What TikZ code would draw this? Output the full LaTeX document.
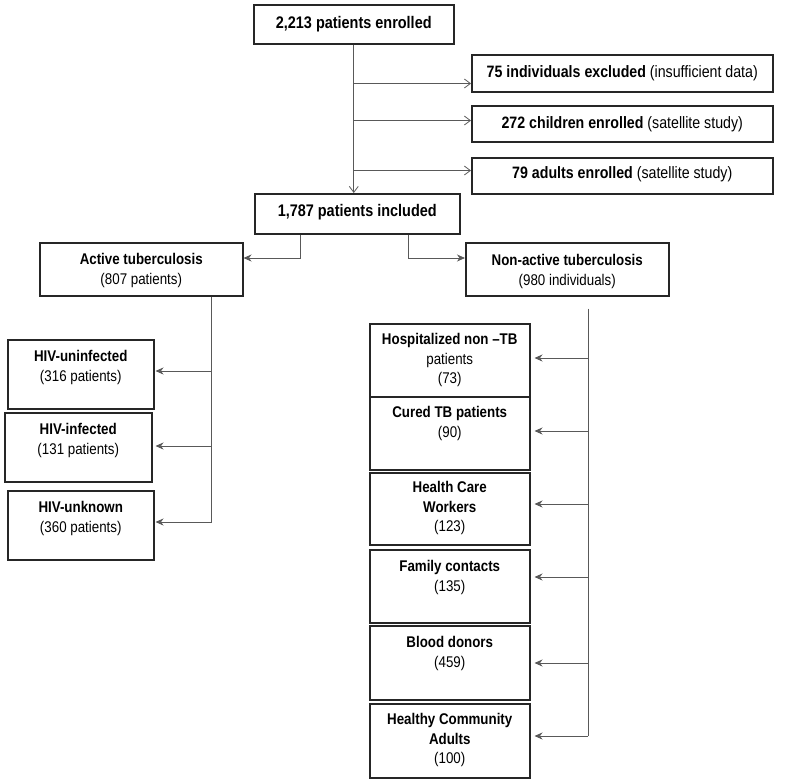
\documentclass[tikz,border=0pt]{standalone}
\usepackage{fontspec}
\setmainfont{Liberation Sans}[FakeStretch=0.86]
\usetikzlibrary{arrows.meta,calc}
\newcommand{\boxtext}[4]{\parbox[c][#2][t]{#1}{\centering\rule{0pt}{#3}#4}}
\begin{document}
\begin{tikzpicture}[x=1pt,y=-1pt,
		box/.style={draw=black!85,line width=1.5pt,inner sep=0pt,anchor=north west,font=\fontsize{15.5}{19.5}\selectfont},
		widebox/.style={box,font=\fontsize{16.5}{20}\selectfont},
		bigbox/.style={box,font=\fontsize{16.8}{20}\selectfont},
		link/.style={draw=black!65,line width=0.8pt},
		open/.style={link,-{Straight Barb[length=6pt,width=9pt]}},
		arr/.style={link,-{Stealth[length=8pt,width=7pt,inset=2.5pt]}}]
		\useasboundingbox (0,0) rectangle (788,782);
		% enrolment
		\node[bigbox] (enrolled) at (253,4) {\boxtext{200pt}{39pt}{24pt}{\textbf{2,213 patients enrolled}}};
		\node[widebox] (excl) at (471,54) {\boxtext{301pt}{37pt}{23pt}{\textbf{75 individuals excluded} (insufficient data)}};
		\node[widebox] (children) at (471,105) {\boxtext{301pt}{36pt}{23pt}{\textbf{272 children enrolled} (satellite study)}};
		\node[widebox] (adults) at (471,157) {\boxtext{301pt}{36pt}{21pt}{\textbf{79 adults enrolled} (satellite study)}};
		\node[bigbox] (included) at (254,193) {\boxtext{205pt}{40pt}{23pt}{\textbf{1,787 patients included}}};
		% two groups
		\node[box] (active) at (39,242) {\boxtext{203pt}{53pt}{22pt}{\textbf{Active tuberculosis}\\(807 patients)}};
		\node[box] (nonactive) at (465,242) {\boxtext{203pt}{53pt}{23pt}{\textbf{Non-active tuberculosis}\\(980 individuals)}};
		% active tuberculosis
		\node[box] (hivu) at (7,339) {\boxtext{146pt}{69pt}{22pt}{\textbf{HIV-uninfected}\\(316 patients)}};
		\node[box] (hivi) at (4,412) {\boxtext{147pt}{69pt}{22pt}{\textbf{HIV-infected}\\(131 patients)}};
		\node[box] (hivn) at (7,490) {\boxtext{146pt}{69pt}{22pt}{\textbf{HIV-unknown}\\(360 patients)}};
		% non-active tuberculosis
		\node[box] (hosp) at (369,323) {\boxtext{160pt}{73pt}{21pt}{\textbf{Hospitalized non --TB}\\patients\\(73)}};
		\node[box] (cured) at (369,396) {\boxtext{160pt}{73pt}{21pt}{\textbf{Cured TB patients}\\(90)}};
		\node[box] (hcw) at (369,472) {\boxtext{160pt}{72pt}{20pt}{\textbf{Health Care}\\\textbf{Workers}\\(123)}};
		\node[box] (fam) at (369,549) {\boxtext{160pt}{73pt}{22pt}{\textbf{Family contacts}\\(135)}};
		\node[box] (blood) at (369,625) {\boxtext{160pt}{74pt}{22pt}{\textbf{Blood donors}\\(459)}};
		\node[box] (healthy) at (369,703) {\boxtext{160pt}{74pt}{21pt}{\textbf{Healthy Community}\\\textbf{Adults}\\(100)}};
		% connectors
		\draw[open] (enrolled.south) -- (enrolled.south |- included.north);
		\path (enrolled.south) ++(0,39) coordinate (br1) ++(0,37) coordinate (br2) ++(0,50) coordinate (br3);
		\draw[open] (br1) -- (br1 -| excl.west);
		\draw[open] (br2) -- (br2 -| children.west);
		\draw[open] (br3) -- (br3 -| adults.west);
		\draw[arr] ($(included.south west)+(46,0)$) |- ($(active.north east)+(0,16)$);
		\draw[arr] ($(included.south west)+(154,0)$) |- ($(nonactive.north west)+(0,16)$);
		\coordinate (atop) at ($(active.south west)+(172,0)$);
		\coordinate (hivu-in) at ($(hivu.north east)+(1,32)$);
		\coordinate (hivi-in) at ($(hivi.north east)+(3,34)$);
		\coordinate (hivn-in) at ($(hivn.north east)+(1,32)$);
		\draw[arr] (atop) |- (hivn-in);
		\draw[arr] (atop |- hivu-in) -- (hivu-in);
		\draw[arr] (atop |- hivi-in) -- (hivi-in);
		\coordinate (ntop) at ($(nonactive.south west)+(123,12)$);
		\foreach \n/\d in {hosp/35, cured/35, hcw/32, fam/28, blood/38, healthy/33} {
			\coordinate (\n-in) at ($(\n.north east)+(4,\d)$);
			\draw[arr] (ntop |- \n-in) -- (\n-in);
		}
		\draw[link] (ntop) -- (ntop |- healthy-in);
\end{tikzpicture}
\end{document}
